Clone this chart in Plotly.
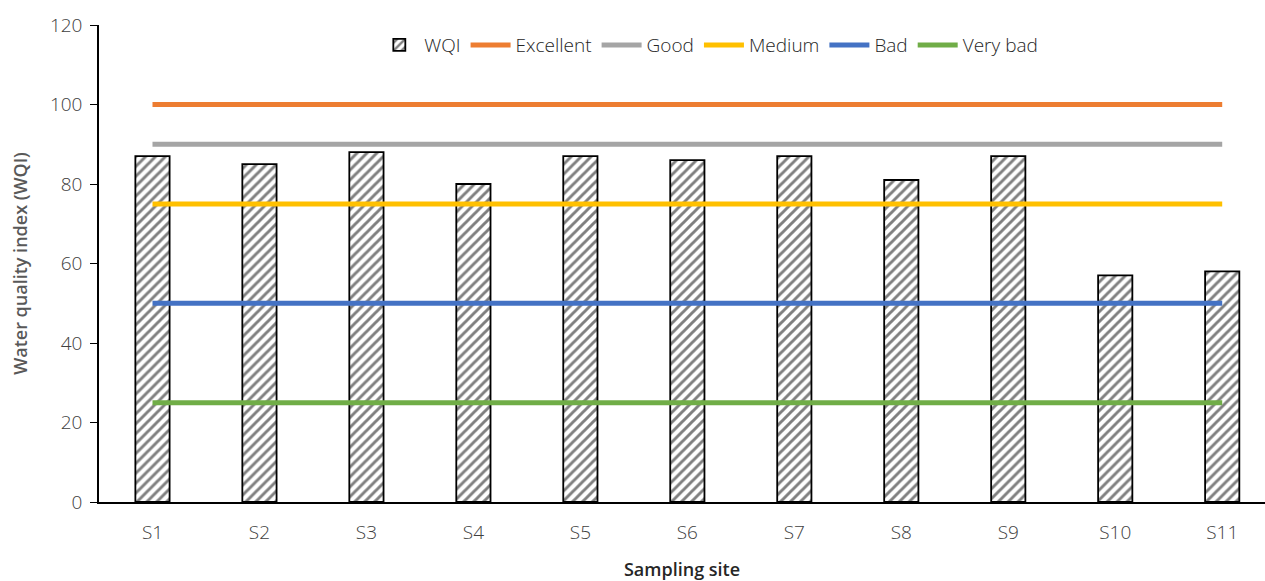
import plotly.graph_objects as go

# Sampling sites and their water quality index
sites = ["S1", "S2", "S3", "S4", "S5", "S6", "S7", "S8", "S9", "S10", "S11"]
wqi = [87, 85, 88, 80, 87, 86, 87, 81, 87, 57, 58]

# Classification thresholds
class_names = ["Excellent", "Good", "Medium", "Bad", "Very bad"]
class_limits = [100, 90, 75, 50, 25]
class_colors = ["#ED7D31", "#A5A5A5", "#FFC000", "#4472C4", "#70AD47"]

fig = go.Figure()

fig.add_trace(go.Bar(
    x=sites, y=wqi, name="WQI", width=0.32,
    marker=dict(
        color="white",
        line=dict(color="black", width=1.8),
        pattern=dict(shape="/", fgcolor="black", bgcolor="white", size=7, solidity=0.42),
    ),
))

for name, limit, color in zip(class_names, class_limits, class_colors):
    fig.add_trace(go.Scatter(
        x=sites, y=[limit] * len(sites), name=name, mode="lines",
        line=dict(color=color, width=5),
    ))

font_family = "Open Sans"
fig.update_layout(
    width=1265, height=581,
    margin=dict(l=99, r=0, t=25, b=79),
    plot_bgcolor="white", paper_bgcolor="white",
    font=dict(family=font_family, size=19, color="#404040", weight=300),
    showlegend=True,
    legend=dict(
        orientation="h", x=0.523, xanchor="center", y=0.958, yanchor="middle",
        font=dict(size=19, color="#262626", weight=300), bgcolor="rgba(0,0,0,0)",
        itemwidth=40, tracegroupgap=0,
    ),
    bargap=0.68,
)

fig.update_xaxes(
    range=[-0.5, 10.4],
    showline=True, linecolor="#000000", linewidth=1.5,
    ticks="", showgrid=False, zeroline=False,
    tickfont=dict(size=19, color="#404040", weight=300),
    ticklabelstandoff=12,
    title=dict(text="Sampling site", font=dict(size=18, color="#262626", weight=600), standoff=20),
)
fig.update_yaxes(
    range=[0, 120], dtick=20,
    showline=True, linecolor="#000000", linewidth=1.5,
    ticks="outside", ticklen=7, tickcolor="#000000", tickwidth=1.2,
    showgrid=False, zeroline=False,
    tickfont=dict(size=19, color="#404040", weight=300),
    ticklabelstandoff=4,
    title=dict(text="Water quality index (WQI)", font=dict(size=18, color="#595959", weight=600), standoff=18),
)

fig.write_html("out.html")
